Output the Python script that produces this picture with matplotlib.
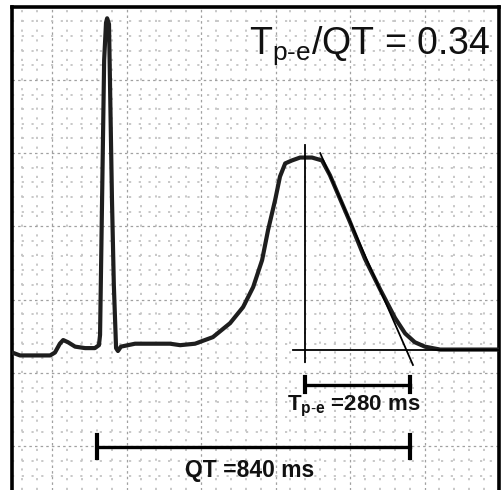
import matplotlib
matplotlib.use("Agg")
import matplotlib.pyplot as plt
from matplotlib.ticker import MultipleLocator

# ECG trace (time in ms, amplitude in mV)
t_ms = [-107, -86, -46, -5, 8, 21, 30, 43, 62, 89, 115, 126, 129, 140, 145, 148, 153,
        161, 166, 172, 177, 185, 223, 317, 344, 384, 432, 478, 513, 540, 564, 580,
        599, 612, 626, 644, 666, 698, 725, 746, 773, 800, 840, 881, 921, 948, 974,
        1001, 1042, 1122, 1203]
v_mv = [0.14, 0.12, 0.12, 0.12, 0.14, 0.20, 0.225, 0.21, 0.18, 0.17, 0.17, 0.19, 0.26,
        2.135, 2.39, 2.42, 2.38, 1.18, 0.60, 0.17, 0.15, 0.18, 0.20, 0.20, 0.19, 0.20,
        0.245, 0.34, 0.45, 0.586, 0.77, 0.975, 1.18, 1.34, 1.43, 1.45, 1.47, 1.47, 1.45,
        1.35, 1.19, 1.03, 0.78, 0.57, 0.375, 0.27, 0.21, 0.18, 0.16, 0.16, 0.16]

# Measurement construction
t_peak = 680
t_end = 960
qt_start = 120
peak_line_v = [0.075, 1.555]
baseline_v = 0.16
baseline_t = [647, 1210]
tangent_t = [720, 969]
tangent_v = [1.50, 0.055]

qt_ms = 840
tpe_ms = 280
ratio = 0.34

plt.rcParams["mathtext.fontset"] = "custom"
plt.rcParams["mathtext.rm"] = "Liberation Sans"
plt.rcParams["mathtext.it"] = "Liberation Sans"
plt.rcParams["mathtext.bf"] = "Liberation Sans:bold"

fig = plt.figure(figsize=(5.01, 4.90), dpi=100)
ax = fig.add_axes([12 / 501, 0.0, (499 - 12) / 501, (490 - 7) / 490])
ax.set_xlim(-107.4, 1200)
ax.set_ylim(-0.798, 2.497)

ax.xaxis.set_major_locator(MultipleLocator(200))
ax.xaxis.set_minor_locator(MultipleLocator(40))
ax.yaxis.set_major_locator(MultipleLocator(0.5))
ax.yaxis.set_minor_locator(MultipleLocator(0.1))
ax.grid(which="minor", color="#c4c4c4", linestyle=(0, (1.2, 4.2)), linewidth=1.3)
ax.grid(which="major", color="#a0a0a0", linestyle=(0, (2, 2.5)), linewidth=0.9)
ax.set_axisbelow(True)
ax.tick_params(which="both", length=0, labelleft=False, labelbottom=False)

for s in ["top", "left", "right"]:
    ax.spines[s].set_linewidth(2.6)
    ax.spines[s].set_color("black")
ax.spines["bottom"].set_visible(False)

# Trace
ax.plot(t_ms, v_mv, color="#1e1e1e", linewidth=3.0, solid_joinstyle="round",
        solid_capstyle="round", zorder=3)

# Construction lines
ax.plot([t_peak, t_peak], peak_line_v, color="black", linewidth=1.3, zorder=4)
ax.plot(baseline_t, [baseline_v, baseline_v], color="black", linewidth=1.3, zorder=4)
ax.plot(tangent_t, tangent_v, color="black", linewidth=1.3, zorder=4)

# Tp-e bar
y_tpe = -0.08
ax.plot([t_peak, t_end], [y_tpe, y_tpe], color="black", linewidth=2.4, zorder=4)
for tt in (t_peak, t_end):
    ax.plot([tt, tt], [y_tpe - 0.05, y_tpe + 0.05], color="black", linewidth=3.0, zorder=4)

# QT bar
y_qt = -0.505
ax.plot([qt_start, t_end], [y_qt, y_qt], color="black", linewidth=2.4, zorder=4)
for tt in (qt_start, t_end):
    ax.plot([tt, tt], [y_qt - 0.075, y_qt + 0.085], color="black", linewidth=3.0, zorder=4)

fam = ["Liberation Sans", "DejaVu Sans"]

ax.text(853, 2.23, r"T$_{\mathrm{p\text{-}e}}$/QT = " + f"{ratio:.2f}", family=fam,
        fontsize=27, ha="center", va="center", color="#111111", zorder=5)
ax.text(811, -0.23, r"T$_{\mathbf{p\text{-}e}}$ =" + f"{tpe_ms} ms", family=fam,
        fontsize=16, fontweight="bold", ha="center", va="center", color="#111111", zorder=5)
ax.text(531, -0.665, f"QT ={qt_ms} ms", family=fam,
        fontsize=16.5, fontweight="bold", ha="center", va="center", color="#111111", zorder=5)

fig.savefig("out.png", dpi=100, facecolor="white")
